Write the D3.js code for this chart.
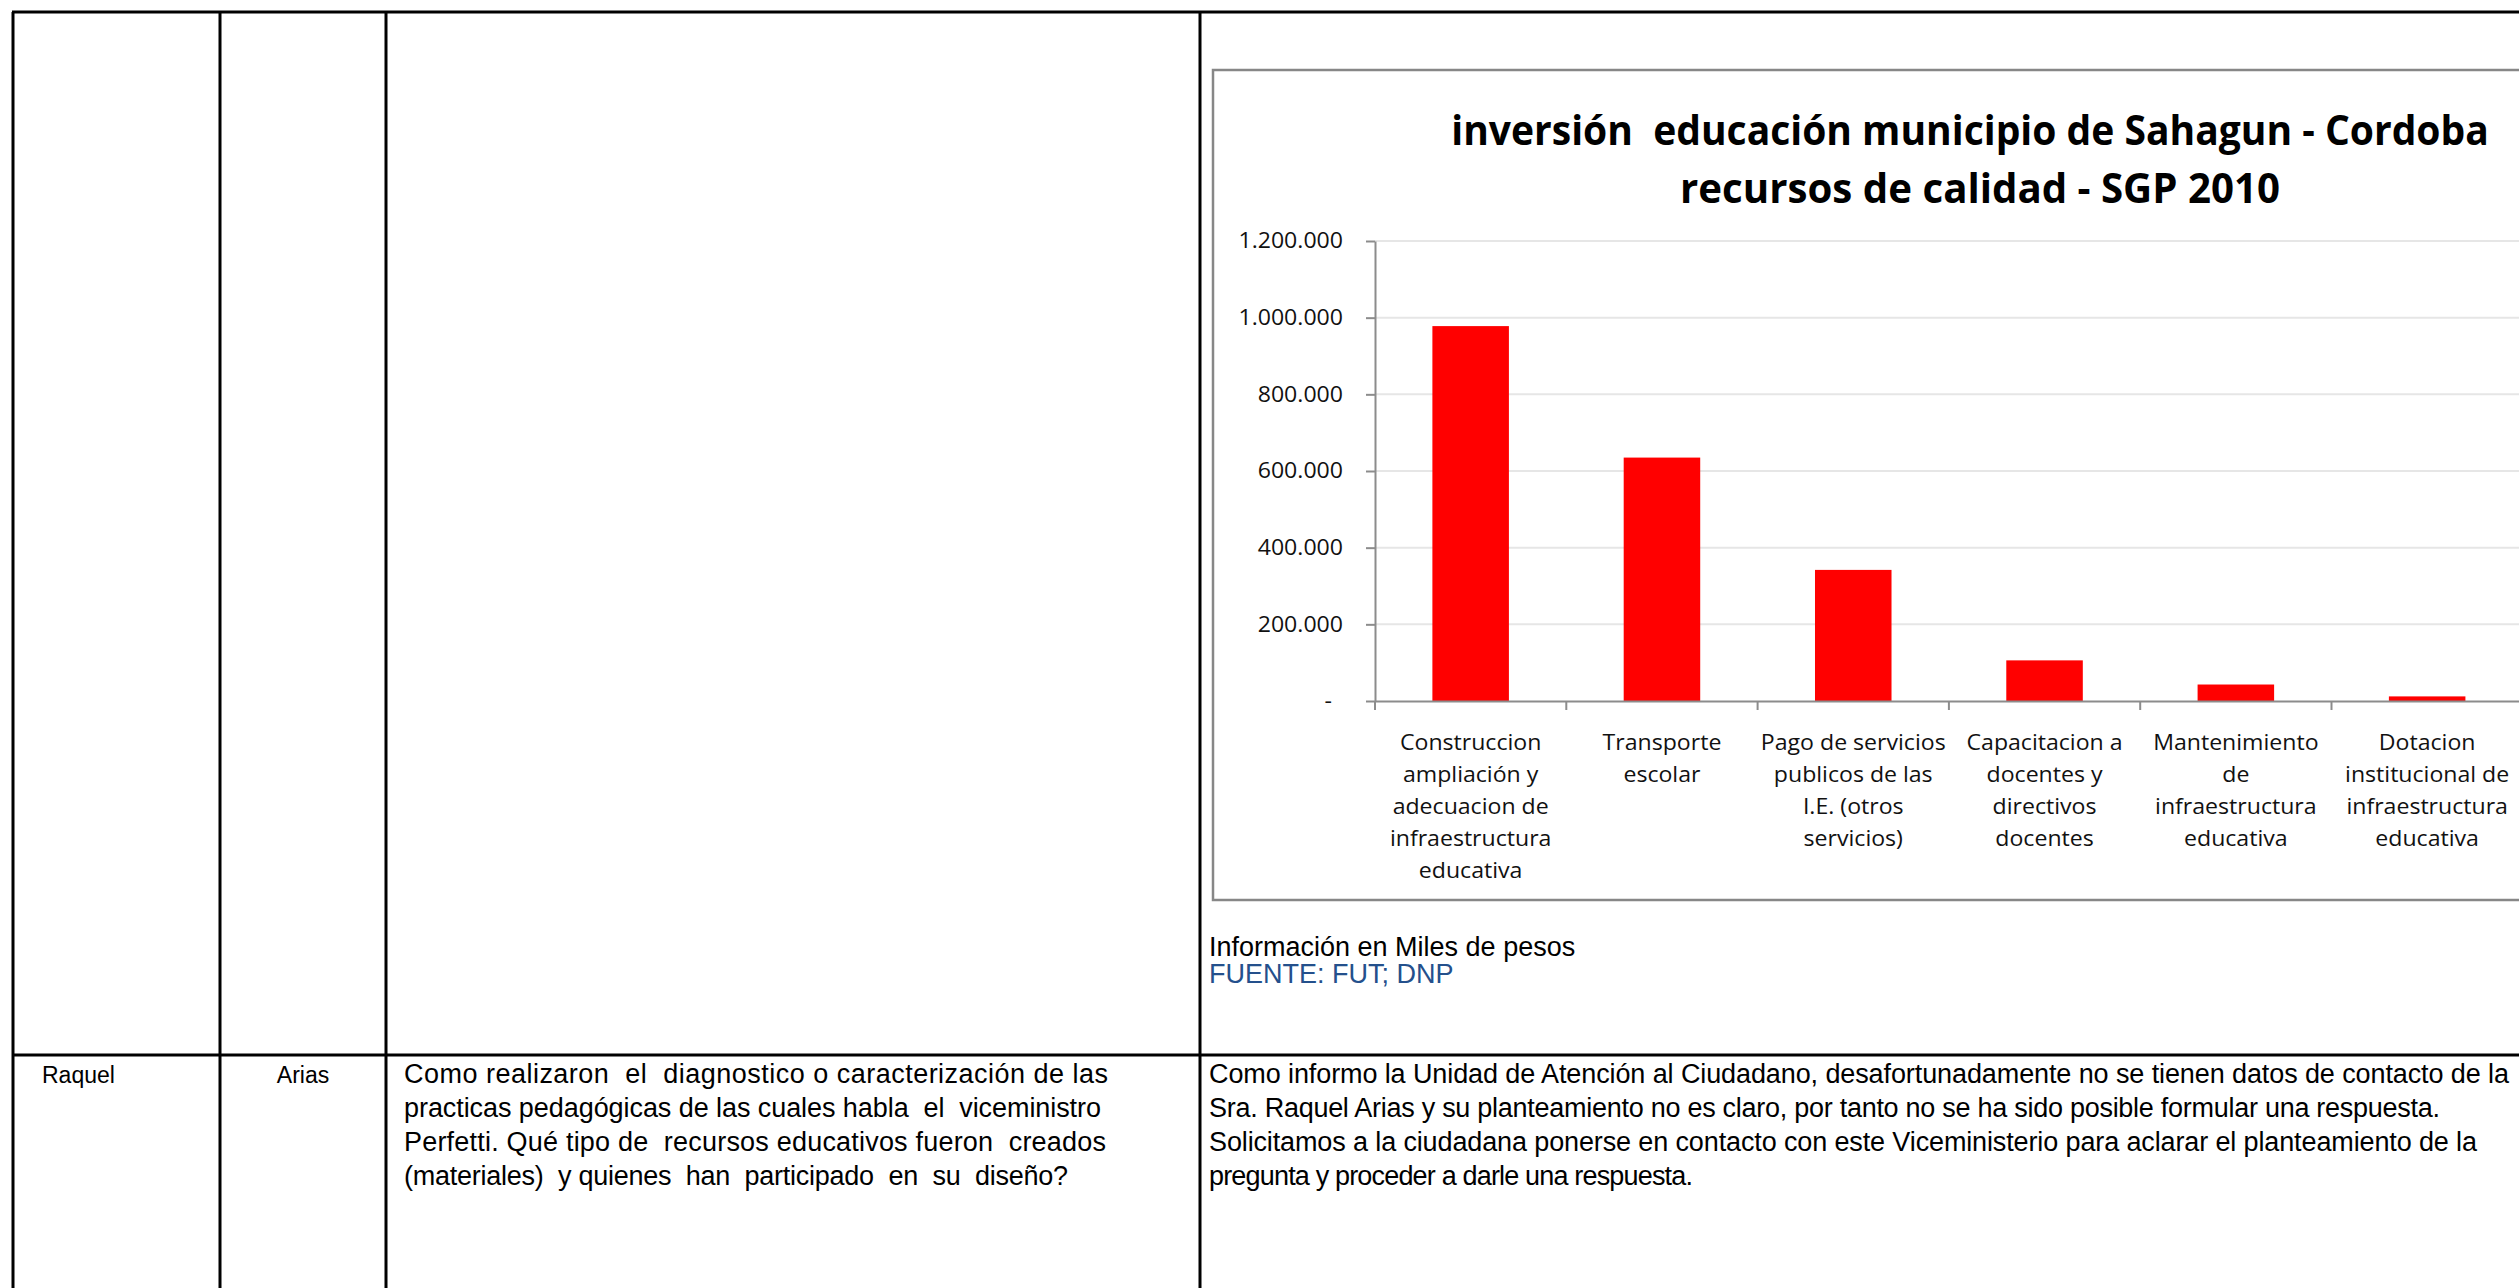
<!DOCTYPE html>
<html>
<head>
<meta charset="utf-8">
<script src="https://cdn.jsdelivr.net/npm/d3@7"></script>
<style>
body{margin:0;background:#fff;overflow:hidden}
text{white-space:pre}
</style>
</head>
<body>
<div id="plot"></div>
<script>
// chart data
var categories = ['Construccion|ampliación y|adecuacion de|infraestructura|educativa',
	'Transporte|escolar',
	'Pago de servicios|publicos de las|I.E. (otros|servicios)',
	'Capacitacion a|docentes y|directivos|docentes',
	'Mantenimiento|de|infraestructura|educativa',
	'Dotacion|institucional de|infraestructura|educativa'];
var values = [978000, 635000, 342000, 106000, 43000, 12000];
var yTicks = [0, 200000, 400000, 600000, 800000, 1000000, 1200000];
var titleLines = ['inversión  educación municipio de Sahagun - Cordoba', 'recursos de calidad - SGP 2010'];

// table texts
var names = ['Raquel', 'Arias'];
var question = ['Como realizaron  el  diagnostico o caracterización de las',
	'practicas pedagógicas de las cuales habla  el  viceministro',
	'Perfetti. Qué tipo de  recursos educativos fueron  creados',
	'(materiales)  y quienes  han  participado  en  su  diseño?'];
var answer = ['Como informo la Unidad de Atención al Ciudadano, desafortunadamente no se tienen datos de contacto de la',
	'Sra. Raquel Arias y su planteamiento no es claro, por tanto no se ha sido posible formular una respuesta.',
	'Solicitamos a la ciudadana ponerse en contacto con este Viceministerio para aclarar el planteamiento de la',
	'pregunta y proceder a darle una respuesta.'];
var notes = ['Información en Miles de pesos', 'FUENTE: FUT; DNP'];

// line widths of the wrapped paragraphs, as laid out in the page
var questionW = [704, 697, 702, 664];
var answerW = [1300, 1231, 1268, 484];

var width = 2519, height = 1288;
var svg = d3.select('#plot').append('svg')
	.attr('width', width)
	.attr('height', height);

//table grid
var colX = [13, 220, 386, 1200];
var topY = 12, rowY = 1055;
svg.append('line').attr('x1', colX[0]-1).attr('x2', width).attr('y1', topY).attr('y2', topY)
	.attr('stroke', '#000').attr('stroke-width', 3);
svg.append('line').attr('x1', colX[0]-1).attr('x2', width).attr('y1', rowY).attr('y2', rowY)
	.attr('stroke', '#000').attr('stroke-width', 3);
colX.forEach(function(cx){
	svg.append('line').attr('x1', cx).attr('x2', cx).attr('y1', topY).attr('y2', height)
		.attr('stroke', '#000').attr('stroke-width', 3);
});

var lineY = function(i){return 1083 + i*34;};
var tbl = svg.append('g').style('font-family', '"Liberation Sans", Arial, sans-serif').attr('fill', '#000');
tbl.append('text').attr('x', 42).attr('y', lineY(0)).style('font-size', '23px').text(names[0]);
tbl.append('text').attr('x', (colX[1]+colX[2])/2).attr('y', lineY(0)).attr('text-anchor', 'middle')
	.style('font-size', '23px').text(names[1]);
question.forEach(function(t, i){
	tbl.append('text').attr('x', 404).attr('y', lineY(i))
		.attr('textLength', questionW[i]).attr('lengthAdjust', 'spacing')
		.style('font-size', '27px').text(t);
});
answer.forEach(function(t, i){
	tbl.append('text').attr('x', 1209).attr('y', lineY(i))
		.attr('textLength', answerW[i]).attr('lengthAdjust', 'spacing')
		.style('font-size', '27px').text(t);
});
tbl.append('text').attr('x', 1209).attr('y', 956).style('font-size', '27px').text(notes[0]);
tbl.append('text').attr('x', 1209).attr('y', 983).style('font-size', '27px').attr('fill', '#24508c').text(notes[1]);

//chart frame
svg.append('rect')
	.attr('x', 1213).attr('y', 70)
	.attr('width', 1540).attr('height', 830)
	.attr('fill', '#fff').attr('stroke', '#878787').attr('stroke-width', 2.5);

var chart = svg.append('g').style('font-family', '"Open Sans", sans-serif');

// title: squeeze the bold face horizontally to the narrow width of the original
var titleW = [1038, 600];
titleLines.forEach(function(t, i){
	var cx = i == 0 ? 1970 : 1980, cy = i == 0 ? 145 : 203;
	var tt = chart.append('text')
		.attr('text-anchor', 'middle')
		.style('font-size', '42px').style('font-weight', 700)
		.attr('fill', '#000')
		.text(t);
	var k = titleW[i] / tt.node().getComputedTextLength();
	tt.attr('transform', 'translate(' + cx + ',' + cy + ') scale(' + k + ',1)');
});

var plotL = 1375, step = 191.3;
var x = d3.scaleBand().domain(categories)
	.range([plotL, plotL + step*categories.length])
	.paddingInner(0.6).paddingOuter(0.3);
var y = d3.scaleLinear().domain([0, 1200000]).range([701, 241]);

var loc = d3.formatLocale({decimal: ',', thousands: '.', grouping: [3], currency: ['$', '']});
var fmt = loc.format(',');

// gridlines
chart.selectAll('.grid').data(yTicks.slice(1)).enter().append('line')
	.attr('class', 'grid')
	.attr('x1', plotL).attr('x2', width)
	.attr('y1', function(d){return y(d);}).attr('y2', function(d){return y(d);})
	.attr('stroke', '#e6e6e6').attr('stroke-width', 2);

// bars
chart.selectAll('.bar').data(values).enter().append('rect')
	.attr('class', 'bar')
	.attr('x', function(d, i){return x(categories[i]);})
	.attr('y', function(d){return y(d);})
	.attr('width', x.bandwidth())
	.attr('height', function(d){return y(0) - y(d);})
	.attr('fill', '#ff0000');

// y axis
var yAxis = chart.append('g')
	.attr('transform', 'translate(' + plotL + ',0)')
	.call(d3.axisLeft(y).tickValues(yTicks).tickSize(9).tickSizeOuter(0).tickPadding(23)
		.tickFormat(function(d){return d == 0 ? '-' : fmt(d);}));
yAxis.attr('font-family', null).attr('font-size', null);
yAxis.select('.domain').attr('stroke', '#8c8c8c').attr('stroke-width', 2);
yAxis.selectAll('.tick line').attr('stroke', '#8c8c8c').attr('stroke-width', 2);
yAxis.selectAll('.tick text')
	.style('font-size', '21px').attr('fill', '#111')
	.attr('transform', 'scale(1.1,1)')
	.attr('x', function(d){return d == 0 ? -43/1.1 : -32/1.1;});

// x axis with ticks between categories
var xAxis = chart.append('g')
	.attr('transform', 'translate(0,' + y(0) + ')')
	.call(d3.axisBottom(x).tickSize(0).tickSizeOuter(0).tickFormat(''));
xAxis.select('.domain').attr('stroke', '#8c8c8c').attr('stroke-width', 2);
var bounds = d3.range(categories.length + 1).map(function(i){return plotL + i*x.step();});
xAxis.selectAll('.sep').data(bounds).enter().append('line')
	.attr('class', 'sep')
	.attr('x1', function(d){return d;}).attr('x2', function(d){return d;})
	.attr('y1', 0).attr('y2', 9)
	.attr('stroke', '#8c8c8c').attr('stroke-width', 2);

// category labels
categories.forEach(function(c){
	var t = chart.append('text')
		.attr('transform', 'translate(' + (x(c) + x.bandwidth()/2) + ',750) scale(1.1,1)')
		.attr('text-anchor', 'middle')
		.style('font-size', '21px')
		.attr('fill', '#111');
	c.split('|').forEach(function(line, i){
		t.append('tspan').attr('x', 0).attr('y', i*32).text(line);
	});
});
</script>
</body>
</html>
